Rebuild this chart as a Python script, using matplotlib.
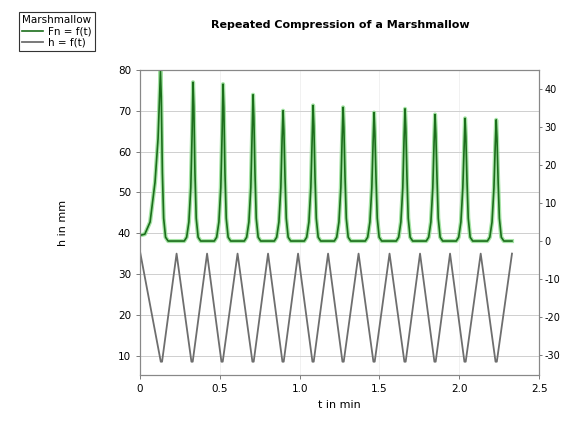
import matplotlib.pyplot as plt

plt.rcParams['axes.unicode_minus'] = False

# force trace (right axis), t in min / F in N
force_t = [0.000, 0.030, 0.063, 0.094, 0.113, 0.128, 0.133, 0.140, 0.148, 0.160, 0.176,
           0.277, 0.292, 0.306, 0.318, 0.326, 0.332, 0.337, 0.344, 0.352, 0.364, 0.380,
           0.465, 0.480, 0.494, 0.506, 0.514, 0.520, 0.525, 0.532, 0.540, 0.552, 0.568,
           0.653, 0.668, 0.682, 0.694, 0.702, 0.708, 0.713, 0.720, 0.728, 0.740, 0.756,
           0.841, 0.856, 0.870, 0.882, 0.890, 0.896, 0.901, 0.908, 0.916, 0.928, 0.944,
           1.029, 1.044, 1.058, 1.070, 1.078, 1.084, 1.089, 1.096, 1.104, 1.116, 1.132,
           1.217, 1.232, 1.246, 1.258, 1.266, 1.272, 1.277, 1.284, 1.292, 1.304, 1.320,
           1.411, 1.426, 1.440, 1.452, 1.460, 1.466, 1.471, 1.478, 1.486, 1.498, 1.514,
           1.605, 1.620, 1.634, 1.646, 1.654, 1.660, 1.665, 1.672, 1.680, 1.692, 1.708,
           1.793, 1.808, 1.822, 1.834, 1.842, 1.848, 1.853, 1.860, 1.868, 1.880, 1.896,
           1.981, 1.996, 2.010, 2.022, 2.030, 2.036, 2.041, 2.048, 2.056, 2.068, 2.084,
           2.176, 2.191, 2.205, 2.217, 2.225, 2.231, 2.236, 2.243, 2.251, 2.263, 2.279,
           2.330]
force_n = [1.5, 1.8, 5.0, 15.5, 27.0, 44.7, 38.0, 18.0, 6.0, 1.0, 0.0,
           0.0, 1.0, 5.0, 14.0, 28.0, 41.8, 35.5, 18.0, 6.0, 1.0, 0.0,
           0.0, 1.0, 5.0, 14.0, 28.0, 41.3, 35.1, 18.0, 6.0, 1.0, 0.0,
           0.0, 1.0, 5.0, 14.0, 28.0, 38.5, 32.7, 18.0, 6.0, 1.0, 0.0,
           0.0, 1.0, 5.0, 14.0, 27.0, 34.3, 29.2, 17.0, 6.0, 1.0, 0.0,
           0.0, 1.0, 5.0, 14.0, 27.0, 35.7, 30.3, 17.0, 6.0, 1.0, 0.0,
           0.0, 1.0, 5.0, 14.0, 27.0, 35.2, 29.9, 17.0, 6.0, 1.0, 0.0,
           0.0, 1.0, 5.0, 14.0, 26.0, 33.8, 28.7, 17.0, 6.0, 1.0, 0.0,
           0.0, 1.0, 5.0, 14.0, 27.0, 34.8, 29.6, 17.0, 6.0, 1.0, 0.0,
           0.0, 1.0, 5.0, 14.0, 26.0, 33.3, 28.3, 17.0, 6.0, 1.0, 0.0,
           0.0, 1.0, 5.0, 14.0, 25.0, 32.3, 27.5, 16.0, 6.0, 1.0, 0.0,
           0.0, 1.0, 5.0, 14.0, 25.0, 31.9, 27.1, 16.0, 6.0, 1.0, 0.0,
           0.0]

# height trace (left axis), t in min / h in mm
height_t = [0.000, 0.130, 0.138, 0.229, 0.322, 0.330, 0.420, 0.510, 0.518, 0.611,
            0.704, 0.712, 0.802, 0.892, 0.900, 0.990, 1.080, 1.088, 1.178, 1.268,
            1.276, 1.369, 1.462, 1.470, 1.563, 1.656, 1.664, 1.754, 1.844, 1.852,
            1.942, 2.032, 2.040, 2.134, 2.227, 2.235, 2.330]
height_mm = [35.5, 8.5, 8.5, 35.0, 8.5, 8.5, 35.0, 8.5, 8.5, 35.0,
             8.5, 8.5, 35.0, 8.5, 8.5, 35.0, 8.5, 8.5, 35.0, 8.5,
             8.5, 35.0, 8.5, 8.5, 35.0, 8.5, 8.5, 35.0, 8.5, 8.5,
             35.0, 8.5, 8.5, 35.0, 8.5, 8.5, 35.0]

x_ticks = [0, 0.5, 1.0, 1.5, 2.0, 2.5]
x_labels = ['0', '0.5', '1.0', '1.5', '2.0', '2.5']
h_ticks = [10, 20, 30, 40, 50, 60, 70, 80]
f_ticks = [-30, -20, -10, 0, 10, 20, 30, 40]

fig = plt.figure(figsize=(5.61, 4.22), dpi=100)
ax = fig.add_axes([0.2496, 0.111, 0.7114, 0.723])
ax2 = ax.twinx()

ax.set_xlim(0, 2.5)
ax.set_ylim(5.2, 80)
ax2.set_ylim(-35.3, 45)

ax.set_xticks(x_ticks)
ax.set_xticklabels(x_labels)
ax.set_yticks(h_ticks)
ax2.set_yticks(f_ticks)

ax.grid(True, axis='y', color='#cfcfcf', lw=0.7)
ax.grid(True, axis='x', color='#efefef', lw=0.6)
ax.set_axisbelow(True)

h_line, = ax.plot(height_t, height_mm, color='#6e6e6e', lw=1.3)
ax2.plot(force_t, force_n, color='#8fdc8f', lw=3.0, alpha=0.8)
f_line, = ax2.plot(force_t, force_n, color='#1b6e1b', lw=1.2)

for a in (ax, ax2):
    a.tick_params(labelsize=7.5, length=3, width=0.6, color='#666666')
    for s in a.spines.values():
        s.set_color('#888888')
        s.set_linewidth(0.8)
ax2.tick_params(labelsize=7, length=2, pad=2)

ax.set_xlabel('t in min', fontsize=8)
ax.set_ylabel('h in mm', fontsize=8, labelpad=36)

fig.text(0.606, 0.94, 'Repeated Compression of a Marshmallow',
         ha='center', va='center', fontsize=8, fontweight='bold')

leg = fig.legend([f_line, h_line], ['Fn = f(t)', 'h = f(t)'], title='Marshmallow',
                 loc='upper left', bbox_to_anchor=(0.025, 0.985), fontsize=7.5,
                 title_fontsize=7.5, fancybox=False, framealpha=1, edgecolor='#333333',
                 handlelength=2.0, borderpad=0.3, labelspacing=0.15, handletextpad=0.5)
leg._legend_box.align = 'left'
leg.get_frame().set_linewidth(0.8)

fig.savefig('out.png', dpi=100)
